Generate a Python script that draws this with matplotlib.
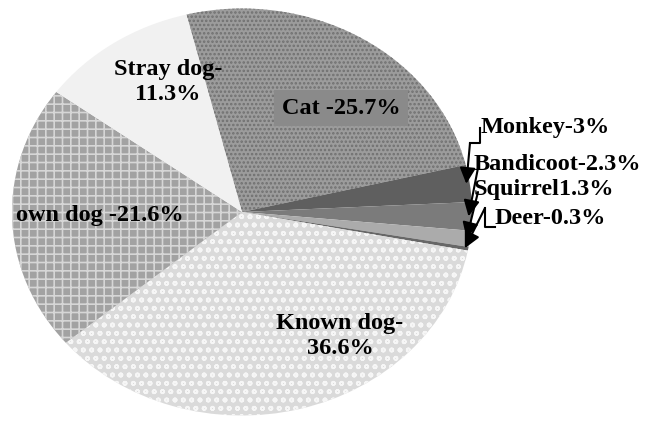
import numpy as np
import matplotlib.pyplot as plt

plt.rcParams['font.family'] = ['Liberation Serif', 'DejaVu Serif']
plt.rcParams['hatch.linewidth'] = 1.2

animals = ['Cat', 'Monkey', 'Bandicoot', 'Squirrel', 'Deer', 'Known dog', 'own dog', 'Stray dog']
percent = [25.7, 3, 2.3, 1.3, 0.3, 36.6, 21.6, 11.3]
label_text = ['Cat -25.7%', 'Monkey-3%', 'Bandicoot-2.3%', 'Squirrel1.3%', 'Deer-0.3%',
              'Known dog-\n36.6%', 'own dog -21.6%', 'Stray dog-\n11.3%']

colors = ['#9c9c9c', '#5f5f5f', '#7b7b7b', '#ababab', '#676767', '#dadada', '#a2a2a2', '#f1f1f1']
hatches = ['....', '', '', '', '', 'oo', '++', '']
hatch_colors = ['#707070', '#5f5f5f', '#7b7b7b', '#ababab', '#676767', '#f6f6f6', '#d6d6d6', '#f1f1f1']

# picture geometry (pixels): pie is a slightly squashed ellipse
W, H = 647, 422
CX, CY, RX, RY = 242, 212, 230, 203.5


def px(x, y):
    return (x - CX) / RX, (CY - y) / RY


fig = plt.figure(figsize=(6.47, 4.22), dpi=100)
ax = fig.add_axes([0, 0, 1, 1])
wedges, _ = ax.pie(percent, startangle=104, counterclock=False, colors=colors,
                   wedgeprops=dict(linewidth=0))
for w, h, hc in zip(wedges, hatches, hatch_colors):
    w.set_hatch(h)
    w.set_edgecolor(hc)
ax.set_aspect('auto')
ax.set_xlim(px(0, 0)[0], px(W, 0)[0])
ax.set_ylim(px(0, H)[1], px(0, 0)[1])
ax.axis('off')

font = dict(fontsize=17.5, fontweight='bold', color='black')

# labels inside the slices
ax.text(*px(341, 108), label_text[0], ha='center', va='center',
        bbox=dict(boxstyle='square,pad=0.3', facecolor='#8a8a8a', edgecolor='none'), **font)
ax.text(*px(340, 336), label_text[5], ha='center', va='center', linespacing=1.2, **font)
ax.text(*px(16, 215), label_text[6], ha='left', va='center', **font)
ax.text(*px(168, 82), label_text[7], ha='center', va='center', linespacing=1.2, **font)

# labels for the thin slices, right side
ax.text(*px(481, 127), label_text[1], ha='left', va='center', **font)
ax.text(*px(474, 164), label_text[2], ha='left', va='center', **font)
ax.text(*px(474, 189), label_text[3], ha='left', va='center', **font)
ax.text(*px(495, 218), label_text[4], ha='left', va='center', **font)


def tip(w, r=0.985):
    t = np.deg2rad((w.theta1 + w.theta2) / 2)
    return r * np.cos(t), r * np.sin(t)


arrow = dict(arrowstyle='-|>', color='black', lw=1.5, mutation_scale=24, shrinkA=0, shrinkB=0)

# Monkey: elbow line then arrow
pts = [px(480, 128), px(480, 143), px(470, 143)]
ax.plot([p[0] for p in pts], [p[1] for p in pts], color='black', lw=1.5)
ax.annotate('', xy=tip(wedges[1]), xytext=pts[-1], arrowprops=arrow)

ax.annotate('', xy=tip(wedges[2]), xytext=px(478, 168), arrowprops=arrow)
ax.annotate('', xy=tip(wedges[3]), xytext=px(478, 192), arrowprops=arrow)

# Deer: elbow line then arrow
pts = [px(495, 227), px(485, 227), px(485, 208)]
ax.plot([p[0] for p in pts], [p[1] for p in pts], color='black', lw=1.5)
ax.annotate('', xy=tip(wedges[4]), xytext=pts[-1], arrowprops=arrow)

fig.savefig('out.png', dpi=100, facecolor='white')
